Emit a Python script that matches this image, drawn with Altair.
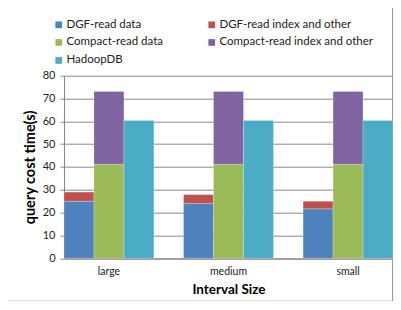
import altair as alt
import pandas as pd

categories = ["large", "medium", "small"]
dgf_data = [25.0, 24.0, 21.7]
dgf_index = [4.0, 3.9, 3.3]
compact_data = [41.2, 41.2, 41.2]
compact_index = [31.9, 31.9, 31.9]
hadoop = [60.4, 60.4, 60.4]

series_names = ["DGF-read data", "DGF-read index and other", "Compact-read data",
                "Compact-read index and other", "HadoopDB"]
series_colors = ["#4F81BD", "#C0504D", "#9BBB59", "#8064A2", "#4BACC6"]
groups = ["DGF", "Compact", "HadoopDB"]

rows = []
for i, c in enumerate(categories):
    rows.append(dict(cat=c, grp="DGF", series=series_names[0], ord=0, v=dgf_data[i]))
    rows.append(dict(cat=c, grp="DGF", series=series_names[1], ord=1, v=dgf_index[i]))
    rows.append(dict(cat=c, grp="Compact", series=series_names[2], ord=0, v=compact_data[i]))
    rows.append(dict(cat=c, grp="Compact", series=series_names[3], ord=1, v=compact_index[i]))
    rows.append(dict(cat=c, grp="HadoopDB", series=series_names[4], ord=0, v=hadoop[i]))
df = pd.DataFrame(rows)

FONT = "Lato"
W, H = 329, 182.6

bars = alt.Chart(df).mark_bar(stroke="#ffffff", strokeWidth=0.4, strokeOpacity=0.6).encode(
    x=alt.X("cat:N", sort=categories,
            scale=alt.Scale(paddingInner=0.248, paddingOuter=0),
            axis=alt.Axis(title="Interval Size", labelAngle=0, ticks=False,
                          labelFontSize=10.5, labelPadding=8, labelColor="#222222",
                          titleFontSize=13.5, titleFontWeight="bold", titlePadding=6,
                          titleColor="#000000",
                          domainColor="#868686", grid=False)),
    xOffset=alt.XOffset("grp:N", sort=groups, scale=alt.Scale(paddingInner=0, paddingOuter=0)),
    y=alt.Y("v:Q", stack="zero",
            scale=alt.Scale(domain=[0, 80], nice=False),
            axis=alt.Axis(title="query cost time(s)", values=list(range(0, 81, 10)),
                          labelFontSize=11, labelColor="#222222", labelPadding=5,
                          tickSize=4, tickColor="#868686", domainColor="#868686",
                          gridColor="#8a8a8a", gridWidth=1,
                          titleFontSize=14.5, titleFontWeight="bold", titlePadding=5,
                          titleColor="#000000")),
    color=alt.Color("series:N", sort=series_names,
                    scale=alt.Scale(domain=series_names, range=series_colors),
                    legend=alt.Legend(title=None, orient="none", legendX=-11, legendY=-57,
                                      direction="horizontal",
                                      columns=2, columnPadding=42, rowPadding=5,
                                      symbolType="square", symbolSize=45,
                                      symbolStrokeWidth=0, labelFontSize=11.5,
                                      labelColor="#222222", labelOffset=2,
                                      labelFont=FONT)),
    order=alt.Order("ord:Q", sort="ascending"),
)

border = alt.Chart(pd.DataFrame({"a": [0]})).mark_rect(
    fill=None, stroke="#9a9a9a", strokeWidth=1
).encode(x=alt.value(-56.5), x2=alt.value(328.5), y=alt.value(-70.5), y2=alt.value(225.5))

chart = alt.layer(border, bars).properties(
    width=W, height=H,
    autosize=alt.AutoSizeParams(type="none"),
    padding={"left": 56, "top": 67.7, "right": 0, "bottom": 43},
).configure(font=FONT).configure_view(stroke=None).configure_axis(labelFont=FONT, titleFont=FONT)

chart.save("out.html", embed_options={"renderer": "svg", "actions": False})
